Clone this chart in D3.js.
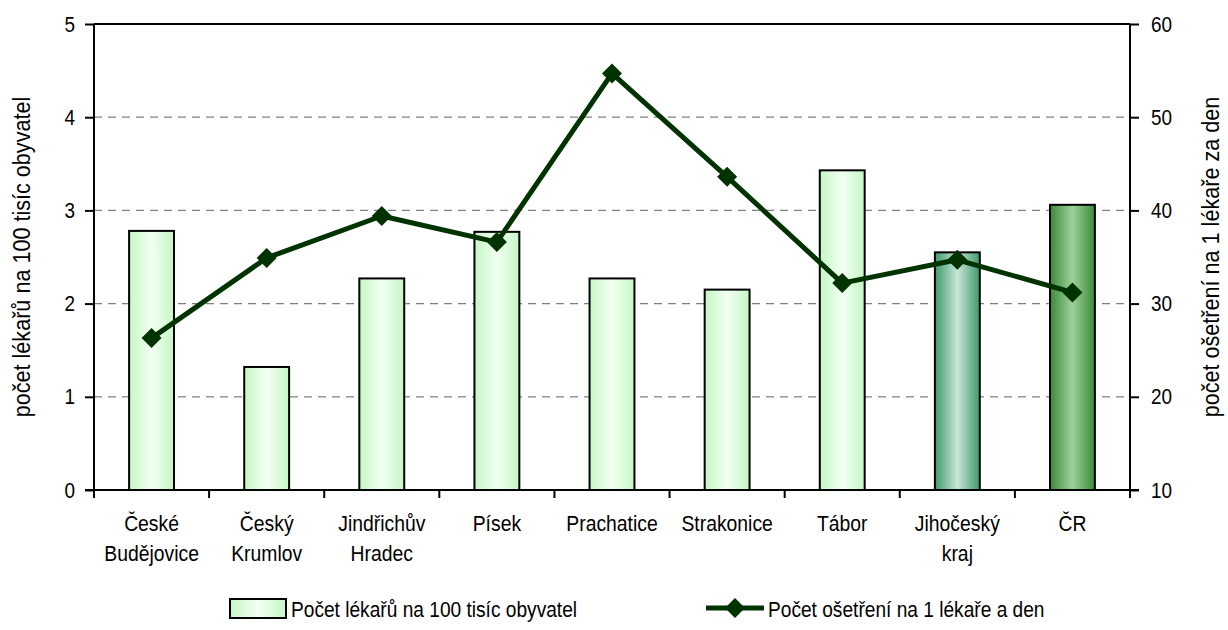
<!DOCTYPE html>
<html><head><meta charset="utf-8">
<script src="https://cdn.jsdelivr.net/npm/d3@7"></script>
<style>
body{margin:0;background:#fff;}
text{font-family:"Liberation Sans",Arial,sans-serif;fill:#000;}
</style></head>
<body><svg id="c" width="1228" height="630"></svg>
<script>
const categories = [["České","Budějovice"],["Český","Krumlov"],["Jindřichův","Hradec"],["Písek"],["Prachatice"],["Strakonice"],["Tábor"],["Jihočeský","kraj"],["ČR"]];
const doctors = [2.78, 1.32, 2.27, 2.77, 2.27, 2.15, 3.43, 2.55, 3.06];
const treatments = [26.3, 34.9, 39.4, 36.6, 54.7, 43.6, 32.2, 34.7, 31.2];
const leftTicks = [0,1,2,3,4,5];
const rightTicks = [10,20,30,40,50,60];
const barFill = ["light","light","light","light","light","light","light","region","country"];
const seriesNames = ["Počet lékařů na 100 tisíc obyvatel","Počet ošetření na 1 lékaře a den"];
const axisTitles = ["počet lékařů na 100 tisíc obyvatel","počet ošetření na 1 lékaře za den"];

const SX = 0.86;
const svg = d3.select("#c");
const L=94, R=1130, T=24, B=490;
const idx = categories.map((d,i)=>i);
const x = d3.scaleBand().domain(idx).range([L,R]).padding(0);
const yL = d3.scaleLinear().domain([0,5]).range([B,T]);
const yR = d3.scaleLinear().domain([10,60]).range([B,T]);

const defs = svg.append("defs");
function grad(id, edge, mid){
  const g = defs.append("linearGradient").attr("id",id).attr("x1","0%").attr("x2","100%").attr("y1","0%").attr("y2","0%");
  g.append("stop").attr("offset","0%").attr("stop-color",edge);
  g.append("stop").attr("offset","50%").attr("stop-color",mid);
  g.append("stop").attr("offset","100%").attr("stop-color",edge);
}
grad("light","#c4f7c4","#f2fff2");
grad("region","#3f9a6b","#c6e6d6");
grad("country","#3a8a3a","#9fd19a");

// gridlines
svg.append("g").selectAll("line").data(leftTicks.filter(t=>t>0&&t<5)).join("line")
  .attr("x1",L).attr("x2",R).attr("y1",d=>yL(d)).attr("y2",d=>yL(d))
  .attr("stroke","#808080").attr("stroke-width",1.2).attr("stroke-dasharray","8,6");

// bars
const bw = x.bandwidth()*0.39;
svg.append("g").selectAll("rect").data(doctors).join("rect")
  .attr("x",(d,i)=>x(i)+x.bandwidth()/2-bw/2).attr("width",bw)
  .attr("y",d=>yL(d)).attr("height",d=>B-yL(d))
  .attr("fill",(d,i)=>`url(#${barFill[i]})`).attr("stroke","#000").attr("stroke-width",2);

// frame
svg.append("line").attr("x1",L).attr("x2",R).attr("y1",T).attr("y2",T).attr("stroke","#000").attr("stroke-width",2);

function condense(sel){
  sel.each(function(){
    const t = d3.select(this);
    const xx = +(t.attr("x")||0);
    t.attr("transform",`translate(${xx},0) scale(${SX},1) translate(${-xx},0)`);
  });
}

// axes
const ax = svg.append("g").attr("transform",`translate(${L},0)`)
  .call(d3.axisLeft(yL).tickValues(leftTicks).tickFormat(d3.format("d")).tickSize(9).tickPadding(10));
const ar = svg.append("g").attr("transform",`translate(${R},0)`)
  .call(d3.axisRight(yR).tickValues(rightTicks).tickFormat(d3.format("d")).tickSize(9).tickPadding(12));
[ax,ar].forEach(a=>{
  a.attr("font-family",null).attr("font-size",null);
  a.select(".domain").attr("stroke","#000").attr("stroke-width",2);
  a.selectAll(".tick line").attr("stroke","#000").attr("stroke-width",2);
  a.selectAll("text").style("font-size","22px").call(condense);
});
ax.select(".domain").attr("d",`M0,${T}V${B}`);
ar.select(".domain").attr("d",`M0,${T}V${B}`);

// x axis
const xg = svg.append("g");
xg.append("line").attr("x1",L-9).attr("x2",R+9).attr("y1",B).attr("y2",B).attr("stroke","#000").attr("stroke-width",2);
xg.selectAll("line.tk").data(idx.concat([idx.length])).join("line").attr("class","tk")
  .attr("x1",i=>i<idx.length?x(i):R).attr("x2",i=>i<idx.length?x(i):R)
  .attr("y1",B).attr("y2",B+8).attr("stroke","#000").attr("stroke-width",2);
const lab = xg.selectAll("text").data(categories).join("text")
  .attr("text-anchor","middle").style("font-size","22px")
  .attr("transform",(d,i)=>`translate(${x(i)+x.bandwidth()/2},${B+41}) scale(0.88,1)`);
lab.selectAll("tspan").data(d=>d).join("tspan").attr("x",0).attr("dy",(d,j)=>j===0?0:30).text(d=>d);

// line
const line = d3.line().x((d,i)=>x(i)+x.bandwidth()/2).y(d=>yR(d));
svg.append("path").datum(treatments).attr("d",line).attr("fill","none")
  .attr("stroke","#003300").attr("stroke-width",5).attr("stroke-linejoin","round");
const sym = d3.symbol().type(d3.symbolSquare).size(200);
svg.append("g").selectAll("path").data(treatments).join("path")
  .attr("d",sym).attr("transform",(d,i)=>`translate(${x(i)+x.bandwidth()/2},${yR(d)}) rotate(45)`)
  .attr("fill","#003300");

// axis titles
svg.append("text").attr("transform",`translate(30,${(T+B)/2}) rotate(-90) scale(0.9,1)`).attr("text-anchor","middle")
  .style("font-size","24px").text(axisTitles[0]);
svg.append("text").attr("transform",`translate(1219,${(T+B)/2}) rotate(-90) scale(0.9,1)`).attr("text-anchor","middle")
  .style("font-size","24px").text(axisTitles[1]);

// legend
const lg = svg.append("g");
lg.append("rect").attr("x",230).attr("y",599).attr("width",56).attr("height",19)
  .attr("fill","url(#light)").attr("stroke","#000").attr("stroke-width",2);
lg.append("text").attr("transform",`translate(291,617) scale(0.87,1)`).style("font-size","22px").text(seriesNames[0]);
lg.append("line").attr("x1",706).attr("x2",764).attr("y1",608).attr("y2",608).attr("stroke","#003300").attr("stroke-width",5);
lg.append("path").attr("d",sym).attr("transform","translate(735,608) rotate(45)").attr("fill","#003300");
lg.append("text").attr("transform",`translate(768,617) scale(0.87,1)`).style("font-size","22px").text(seriesNames[1]);
</script></body></html>
